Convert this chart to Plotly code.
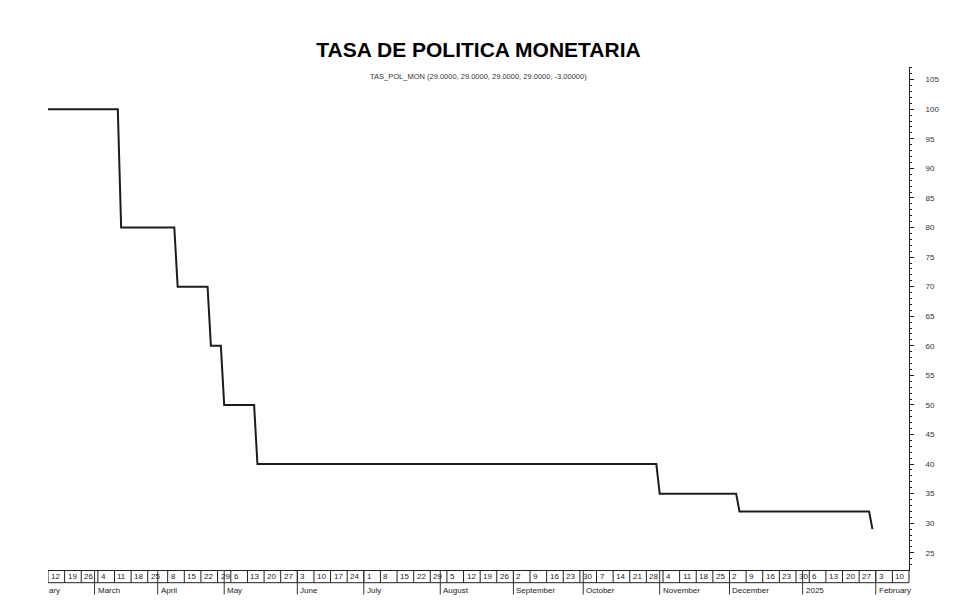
import pandas as pd
import plotly.graph_objects as go

# %% data: monetary policy rate (points where the level changes)
dates = ["2024-02-12", "2024-03-12", "2024-03-13", "2024-04-10", "2024-04-11",
         "2024-04-24", "2024-04-25", "2024-04-30", "2024-05-02", "2024-05-15",
         "2024-05-16", "2024-10-31", "2024-11-01", "2024-12-04", "2024-12-05",
         "2025-01-30", "2025-01-31"]
rates = [100, 100, 80, 80, 70, 70, 60, 60, 50, 50, 40, 40, 35, 35, 32, 32, 29]

# non trading days (besides weekends)
holidays = ["2024-03-28", "2024-03-29", "2024-04-01", "2024-04-02",
            "2024-05-01", "2025-01-01"]

# first trading day of each week shown in the date strip
week_ticks = ["2024-02-12", "2024-02-19", "2024-02-26", "2024-03-04", "2024-03-11",
              "2024-03-18", "2024-03-25", "2024-04-08", "2024-04-15", "2024-04-22",
              "2024-04-29", "2024-05-06", "2024-05-13", "2024-05-20", "2024-05-27",
              "2024-06-03", "2024-06-10", "2024-06-17", "2024-06-24", "2024-07-01",
              "2024-07-08", "2024-07-15", "2024-07-22", "2024-07-29", "2024-08-05",
              "2024-08-12", "2024-08-19", "2024-08-26", "2024-09-02", "2024-09-09",
              "2024-09-16", "2024-09-23", "2024-09-30", "2024-10-07", "2024-10-14",
              "2024-10-21", "2024-10-28", "2024-11-04", "2024-11-11", "2024-11-18",
              "2024-11-25", "2024-12-02", "2024-12-09", "2024-12-16", "2024-12-23",
              "2024-12-30", "2025-01-06", "2025-01-13", "2025-01-20", "2025-01-27",
              "2025-02-03", "2025-02-10"]

month_starts = ["2024-03-01", "2024-04-03", "2024-05-02", "2024-06-03", "2024-07-01",
                "2024-08-01", "2024-09-02", "2024-10-01", "2024-11-01", "2024-12-02",
                "2025-01-02", "2025-02-03"]
month_names = ["March", "April", "May", "June", "July", "August", "September",
               "October", "November", "December", "2025", "February"]

title = "TASA DE POLITICA MONETARIA"
subtitle = "TAS_POL_MON (29.0000, 29.0000, 29.0000, 29.0000, -3.00000)"

# %% figure
W, H = 980, 613
M_L, M_R, M_T, M_B = 48, 71, 67, 43
plot_h = H - M_T - M_B

box_h = 12.7 / plot_h      # height of the day-number strip
month_h = 24.5 / plot_h    # month separator length
font = "Liberation Sans"

fig = go.Figure()
fig.add_trace(go.Scatter(
    x=pd.to_datetime(dates), y=rates, mode="lines",
    line=dict(color="#1c1c1c", width=2), showlegend=False,
))

shapes = []
annotations = []

# strip frame
shapes.append(dict(type="line", xref="paper", yref="paper", x0=0, x1=1,
                   y0=-box_h, y1=-box_h, line=dict(color="#222", width=1)))
shapes.append(dict(type="line", xref="paper", yref="paper", x0=1, x1=1,
                   y0=0, y1=-box_h, line=dict(color="#222", width=1)))

for d in week_ticks:
    shapes.append(dict(type="line", xref="x", yref="paper", x0=d, x1=d,
                       y0=0, y1=-box_h, line=dict(color="#222", width=1)))
    annotations.append(dict(x=d, y=-box_h / 2, xref="x", yref="paper",
                            text=str(pd.Timestamp(d).day), showarrow=False,
                            xanchor="left", yanchor="middle", xshift=1,
                            font=dict(family=font, size=8, color="#222")))

for d, name in zip(month_starts, month_names):
    shapes.append(dict(type="line", xref="x", yref="paper", x0=d, x1=d,
                       y0=0, y1=-month_h, line=dict(color="#333", width=1)))
    annotations.append(dict(x=d, y=-20.7 / plot_h, xref="x", yref="paper",
                            text=name, showarrow=False,
                            xanchor="left", yanchor="middle", xshift=1,
                            font=dict(family=font, size=8, color="#222")))

# clipped end of "February" at the left edge
annotations.append(dict(x=0, y=-20.7 / plot_h, xref="paper", yref="paper",
                        text="ary", showarrow=False, xanchor="left",
                        yanchor="middle", xshift=-1,
                        font=dict(family=font, size=8, color="#222")))

annotations.append(dict(x=0.5, y=1 - 9 / plot_h, xref="paper", yref="paper",
                        text=subtitle, showarrow=False, xanchor="center",
                        yanchor="middle",
                        font=dict(family=font, size=7.5, color="#333")))

fig.update_layout(
    width=W, height=H,
    margin=dict(l=M_L, r=M_R, t=M_T, b=M_B),
    paper_bgcolor="white", plot_bgcolor="white",
    title=dict(text="<b>" + title + "</b>", x=0.5, xref="paper",
               y=1 - 49.7 / H, yref="container", yanchor="middle",
               font=dict(family=font, size=21, color="black")),
    xaxis=dict(
        type="date", range=["2024-02-12", "2025-02-17"],
        rangebreaks=[dict(bounds=["sat", "mon"]), dict(values=holidays)],
        showgrid=False, zeroline=False, showticklabels=False, ticks="",
        showline=True, linecolor="#222", linewidth=1,
    ),
    yaxis=dict(
        side="right", range=[22.09, 107.14], tick0=0, dtick=5,
        showgrid=False, zeroline=False,
        showline=True, linecolor="#222", linewidth=1,
        ticks="outside", ticklen=4, tickcolor="#222", ticklabelstandoff=10,
        tickfont=dict(family=font, size=8, color="#333"),
        minor=dict(dtick=1, ticks="outside", ticklen=2, tickcolor="#222"),
    ),
    shapes=shapes,
    annotations=annotations,
)

# page body has a default margin; drop it so the figure sits at the corner
fig.write_html("out.html", config={"displayModeBar": False},
               post_script="document.body.style.margin='0';")
